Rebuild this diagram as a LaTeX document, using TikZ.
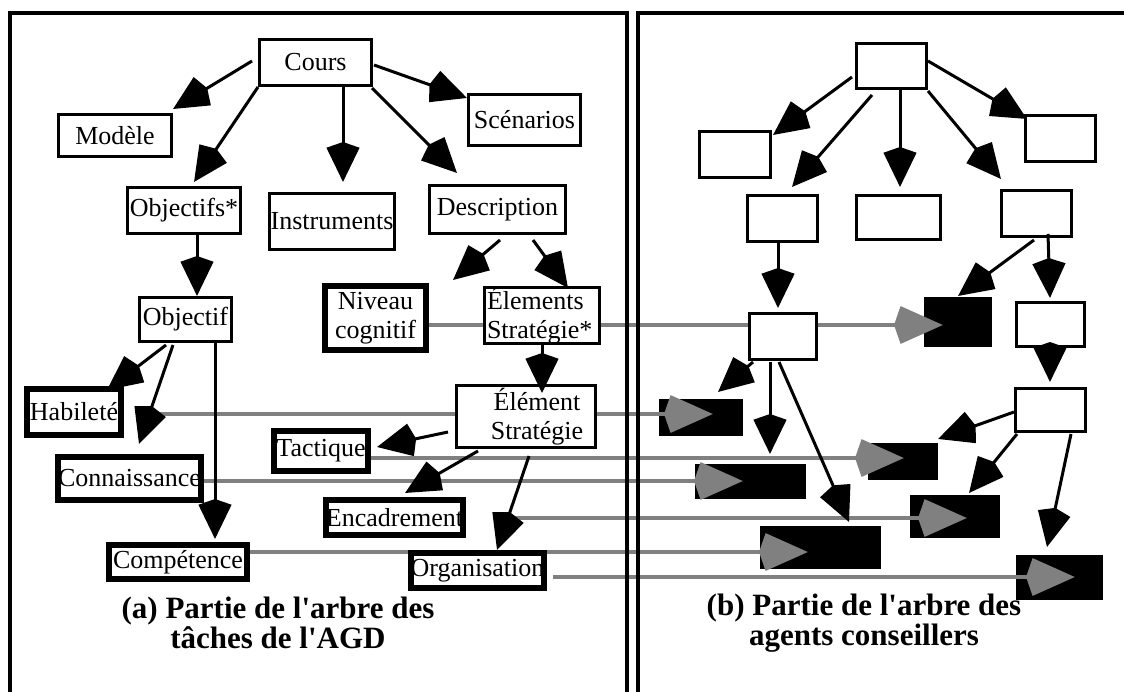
\documentclass[tikz,border=0pt]{standalone}
\usepackage{fontspec}
\setmainfont{Liberation Serif}
\usetikzlibrary{arrows.meta}
\pgfdeclarelayer{blk}
\pgfdeclarelayer{gry}
\pgfsetlayers{blk,gry,main}
\definecolor{grayline}{RGB}{128,128,128}
\newcommand\lblfont{\fontsize{26}{29}\selectfont}
\newcommand\capfont{\bfseries\fontsize{31}{30}\selectfont}
\begin{document}
\begin{tikzpicture}[x=1pt,y=-1pt,
  box/.style={draw, line width=3pt, fill=white, inner sep=0pt, font=\lblfont},
  tbox/.style={box, line width=6pt},
  bbox/.style={fill=black, inner sep=0pt},
  arr/.style={line width=3pt, -{Stealth[length=34pt,width=32pt,inset=-6pt]}},
  garr/.style={line width=4.5pt, draw=grayline, -{Stealth[length=42pt,width=36pt,inset=-7pt,fill=grayline]}},
  frame/.style={line width=4pt}]
\useasboundingbox (0,0) rectangle (1124,691);

% black target boxes (bottom layer)
\begin{pgfonlayer}{blk}
\node[bbox, minimum width=68pt, minimum height=50pt] (b1) at (958,322) {};
\node[bbox, minimum width=84pt, minimum height=37pt] (b2) at (701,417.5) {};
\node[bbox, minimum width=70pt, minimum height=37pt] (b3) at (903,461.5) {};
\node[bbox, minimum width=111pt, minimum height=35pt] (b4) at (750.5,481.5) {};
\node[bbox, minimum width=90pt, minimum height=43pt] (b5) at (955,516.5) {};
\node[bbox, minimum width=121pt, minimum height=43pt] (b6) at (820.5,547.5) {};
\node[bbox, minimum width=87pt, minimum height=45pt] (b7) at (1059.5,577.5) {};
\end{pgfonlayer}

% left tree
\node[box, minimum width=112pt, minimum height=46pt] (cours) at (315.5,62.5) {Cours};
\node[box, minimum width=113pt, minimum height=42pt] (modele) at (115,135.5) {Modèle};
\node[box, minimum width=112pt, minimum height=51pt] (scen) at (524.5,120) {Scénarios};
\node[box, minimum width=113pt, minimum height=46pt] (objs) at (184,210.5) {Objectifs*};
\node[box, minimum width=125pt, minimum height=56pt] (instr) at (332,221.5) {Instruments};
\node[box, minimum width=136pt, minimum height=48pt] (descr) at (497.5,209.5) {Description};
\node[box, minimum width=92pt, minimum height=44pt] (obj) at (185.5,319.5) {Objectif};
\node[tbox, minimum width=101pt, minimum height=64pt, align=center] (niveau) at (375.5,318) {Niveau\\cognitif};
\node[box, minimum width=115pt, minimum height=52pt, text width=110pt, align=left] (elems) at (542,315.5) {Élements\\Stratégie*};
\node[tbox, minimum width=94pt, minimum height=46pt] (hab) at (74,412) {Habileté};
\node[box, minimum width=139pt, minimum height=62pt, align=center] (elem) at (526,416.5) {\hspace*{22pt}Élément\\\hspace*{22pt}Stratégie};
\node[tbox, minimum width=94pt, minimum height=40pt] (tact) at (321,451) {Tactique};
\node[tbox, minimum width=139pt, minimum height=43pt] (conn) at (129.5,478.5) {Connaissance};
\node[tbox, minimum width=137pt, minimum height=35pt] (encad) at (394.5,517.5) {Encadrement};
\node[tbox, minimum width=138pt, minimum height=34pt] (comp) at (178,562) {Compétence};
\node[tbox, minimum width=133pt, minimum height=35pt] (org) at (477.5,570.5) {Organisation};
\coordinate (dfree) at (453,280);

% right tree
\node[box, minimum width=70pt, minimum height=45pt] (rt) at (891.5,66) {};
\node[box, minimum width=71pt, minimum height=46pt] (rl1) at (735,154.5) {};
\node[box, minimum width=70pt, minimum height=46pt] (rr1) at (1060.5,138.5) {};
\node[box, minimum width=70pt, minimum height=46pt] (rml) at (782.5,218.5) {};
\node[box, minimum width=84pt, minimum height=44pt] (rm) at (898.5,217.5) {};
\node[box, minimum width=70pt, minimum height=46pt] (rmr) at (1036.5,213.5) {};
\node[box, minimum width=67pt, minimum height=46pt] (rc) at (783,336.5) {};
\node[box, minimum width=68pt, minimum height=44pt] (rr2) at (1050.5,324.5) {};
\node[box, minimum width=70pt, minimum height=43pt] (rr3) at (1050.5,410) {};

% gray correspondence arrows
\begin{pgfonlayer}{gry}
\draw[garr] ([shift={(53.5,7)}]niveau.center) -- ([shift={(-15,3)}]b1.center);
\draw[garr] ([shift={(78,2)}]hab.center) -- ([shift={(12,-3.5)}]b2.center);
\draw[garr] ([shift={(50,7)}]tact.center) -- ([shift={(1,-3.5)}]b3.center);
\draw[garr] ([shift={(72.5,2.5)}]conn.center) -- ([shift={(-7.5,-0.5)}]b4.center);
\draw[garr] ([shift={(103.5,0.5)}]encad.center) -- ([shift={(12,1.5)}]b5.center);
\draw[garr] ([shift={(72,-10)}]comp.center) -- ([shift={(-12.5,4.5)}]b6.center);
\draw[garr] ([shift={(75.5,6.5)}]org.center) -- ([shift={(15.5,-0.5)}]b7.center);
\end{pgfonlayer}

% left tree arrows
\draw[arr] ([shift={(-63.5,-1.5)}]cours.center) -- ([shift={(58,-26.5)}]modele.center);
\draw[arr] ([shift={(-57.5,24.5)}]cours.center) -- ([shift={(10,-28.5)}]objs.center);
\draw[arr] ([shift={(27.5,24.5)}]cours.center) -- ([shift={(11,-39.5)}]instr.center);
\draw[arr] ([shift={(56.5,25.5)}]cours.center) -- ([shift={(-40.5,-36.5)}]descr.center);
\draw[arr] ([shift={(58.5,2.5)}]cours.center) -- ([shift={(-57.5,-22)}]scen.center);
\draw[arr] ([shift={(13,24.5)}]objs.center) -- ([shift={(11.5,-23.5)}]obj.center);
\draw[arr] ([shift={(2.5,30.5)}]descr.center) -- (dfree);
\draw[arr] ([shift={(35.5,30.5)}]descr.center) -- ([shift={(26,-27.5)}]elems.center);
\draw[arr] ([shift={(0,29.5)}]elems.center) -- ([shift={(16,-23.5)}]elem.center);
\draw[arr] ([shift={(-19.5,25.5)}]obj.center) -- ([shift={(33,-22)}]hab.center);
\draw[arr] ([shift={(-12.5,25.5)}]obj.center) -- ([shift={(9.5,-34.5)}]conn.center);
\draw[arr] ([shift={(29.5,23.5)}]obj.center) -- ([shift={(37,-23)}]comp.center);
\draw[arr] ([shift={(-78,15.5)}]elem.center) -- ([shift={(56,-4)}]tact.center);
\draw[arr] ([shift={(-48,34.5)}]elem.center) -- ([shift={(10.5,-24.5)}]encad.center);
\draw[arr] ([shift={(3,39.5)}]elem.center) -- ([shift={(19.5,-20.5)}]org.center);

% right tree arrows
\draw[arr] ([shift={(-39.5,11)}]rt.center) -- ([shift={(38,-19.5)}]rl1.center);
\draw[arr] ([shift={(-19.5,29)}]rt.center) -- ([shift={(9.5,-31.5)}]rml.center);
\draw[arr] ([shift={(8.5,24)}]rt.center) -- ([shift={(1.5,-30.5)}]rm.center);
\draw[arr] ([shift={(36.5,25)}]rt.center) -- ([shift={(-35.5,-34.5)}]rmr.center);
\draw[arr] ([shift={(36.5,-5)}]rt.center) -- ([shift={(-33.5,-19.5)}]rr1.center);
\draw[arr] ([shift={(-4.5,24.5)}]rml.center) -- ([shift={(-5,-28.5)}]rc.center);
\draw[arr] ([shift={(-2.5,26.5)}]rmr.center) -- ([shift={(0,-26)}]b1.center);
\draw[arr] ([shift={(11.5,20.5)}]rmr.center) -- ([shift={(-0.5,-26.5)}]rr2.center);
\draw[arr] ([shift={(-30,25.5)}]rc.center) -- ([shift={(17,-25.5)}]b2.center);
\draw[arr] ([shift={(-13,25.5)}]rc.center) -- ([shift={(19.5,-27.5)}]b4.center);
\draw[arr] ([shift={(-4,25.5)}]rc.center) -- ([shift={(28.5,-25.5)}]b6.center);
\draw[arr] ([shift={(-0.5,23.5)}]rr2.center) -- ([shift={(-0.5,-28)}]rr3.center);
\draw[arr] ([shift={(-36.5,2)}]rr3.center) -- ([shift={(35,-22.5)}]b3.center);
\draw[arr] ([shift={(-33.5,24)}]rr3.center) -- ([shift={(14,-23.5)}]b5.center);
\draw[arr] ([shift={(20.5,24)}]rr3.center) -- ([shift={(-12.5,-30.5)}]b7.center);

% panel frames
\draw[frame] (10,695) -- (10,13) -- (627,13) -- (627,695);
\draw[frame] (1130,13) -- (638,13) -- (638,695);

% captions
\node[font=\capfont, align=center] (capa) at (278,623) {(a) Partie de l\textquotesingle arbre des\\tâches de l\textquotesingle AGD};
\node[font=\capfont, align=center] (capb) at (864,623) {(b) Partie de l\textquotesingle arbre des\\agents conseillers};
\end{tikzpicture}
\end{document}
